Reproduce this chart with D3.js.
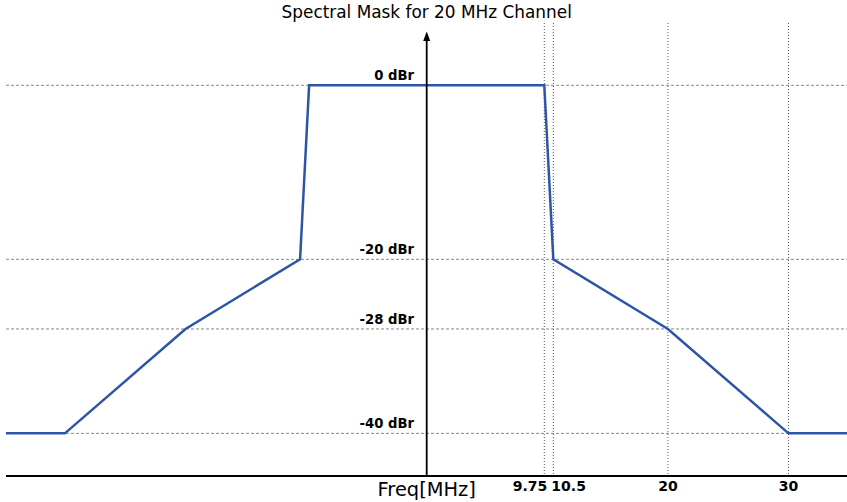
<!DOCTYPE html>
<html>
<head>
<meta charset="utf-8">
<script src="https://cdn.jsdelivr.net/npm/d3@7"></script>
<style>
  html, body { margin: 0; padding: 0; background: #fff; }
  svg { display: block; font-family: "DejaVu Sans", sans-serif; }
</style>
</head>
<body>
<svg id="chart" width="847" height="502"></svg>
<script>
// Spectral mask breakpoints: frequency offset (MHz) and relative level (dBr)
const maskFreq = [-35, -30, -20, -10.5, -9.75, 9.75, 10.5, 20, 30, 35];
const maskLevel = [-40, -40, -28, -20, 0, 0, -20, -28, -40, -40];

// Reference levels drawn as horizontal guides
const levelValues = [0, -20, -28, -40];
const levelLabels = ["0 dBr", "-20 dBr", "-28 dBr", "-40 dBr"];

// Frequency markers on the bottom axis
const tickValues = [9.75, 10.5, 20, 30];
const tickLabels = ["9.75", "10.5", "20", "30"];
const tickAnchor = ["end", "start", "middle", "middle"];

const title = "Spectral Mask for 20 MHz Channel";
const xTitle = "Freq[MHz]";

const W = 847, H = 502;
const svg = d3.select("#chart");

const x = d3.scaleLinear().domain([-35, 35]).range([4.6, 848.8]);
const y = d3.scaleLinear().domain([-44.9, 0]).range([476, 85.3]);

const left = 6, right = W;
const axisY = y(-44.9);

svg.append("defs").append("clipPath").attr("id", "plotClip")
  .append("rect").attr("x", left).attr("y", 0).attr("width", right - left).attr("height", H);

const plot = svg.append("g").attr("clip-path", "url(#plotClip)");

// horizontal dashed level guides
plot.selectAll("line.level").data(levelValues).join("line")
  .attr("class", "level")
  .attr("x1", left).attr("x2", right)
  .attr("y1", d => y(d)).attr("y2", d => y(d))
  .attr("stroke", "#8a8a8a").attr("stroke-width", 1)
  .attr("stroke-dasharray", "3,2");

// vertical dotted frequency markers
plot.selectAll("line.freq").data(tickValues).join("line")
  .attr("class", "freq")
  .attr("x1", d => x(d)).attr("x2", d => x(d))
  .attr("y1", 23).attr("y2", axisY)
  .attr("stroke", "#555").attr("stroke-width", 1)
  .attr("stroke-dasharray", "1,2");

// mask outline
const pts = maskFreq.map((f, i) => [f, maskLevel[i]]);
plot.append("path")
  .datum(pts)
  .attr("d", d3.line().x(d => x(d[0])).y(d => y(d[1])))
  .attr("fill", "none")
  .attr("stroke", "#2c55a8")
  .attr("stroke-width", 2.5)
  .attr("stroke-linejoin", "miter");

// x axis line
svg.append("line")
  .attr("x1", left).attr("x2", right)
  .attr("y1", axisY).attr("y2", axisY)
  .attr("stroke", "#000").attr("stroke-width", 1.8);

// y axis with arrow head
const x0 = x(0);
svg.append("line")
  .attr("x1", x0).attr("x2", x0)
  .attr("y1", axisY).attr("y2", 40)
  .attr("stroke", "#000").attr("stroke-width", 1.8);
svg.append("path")
  .attr("d", `M${x0},31.5 L${x0 - 3.5},41 L${x0 + 3.5},41 Z`)
  .attr("fill", "#000");

// level labels
svg.selectAll("text.level").data(levelValues).join("text")
  .attr("class", "level")
  .attr("x", 414)
  .attr("y", d => y(d) - 5)
  .attr("text-anchor", "end")
  .attr("font-weight", "bold")
  .attr("font-size", 13.2)
  .attr("fill", "#000")
  .text((d, i) => levelLabels[i]);

// frequency tick labels
svg.selectAll("text.tick").data(tickValues).join("text")
  .attr("class", "tick")
  .attr("x", (d, i) => tickAnchor[i] === "end" ? x(d) + 3 : tickAnchor[i] === "start" ? x(d) - 2 : x(d))
  .attr("y", 491)
  .attr("text-anchor", (d, i) => tickAnchor[i])
  .attr("font-weight", "bold")
  .attr("font-size", 14)
  .attr("fill", "#000")
  .text((d, i) => tickLabels[i]);

// axis title
svg.append("text")
  .attr("x", x0).attr("y", 496)
  .attr("text-anchor", "middle")
  .attr("font-size", 19.4)
  .attr("fill", "#000")
  .text(xTitle);

// chart title
svg.append("text")
  .attr("x", x0).attr("y", 18)
  .attr("text-anchor", "middle")
  .attr("font-size", 16.9)
  .attr("fill", "#000")
  .text(title);
</script>
</body>
</html>
